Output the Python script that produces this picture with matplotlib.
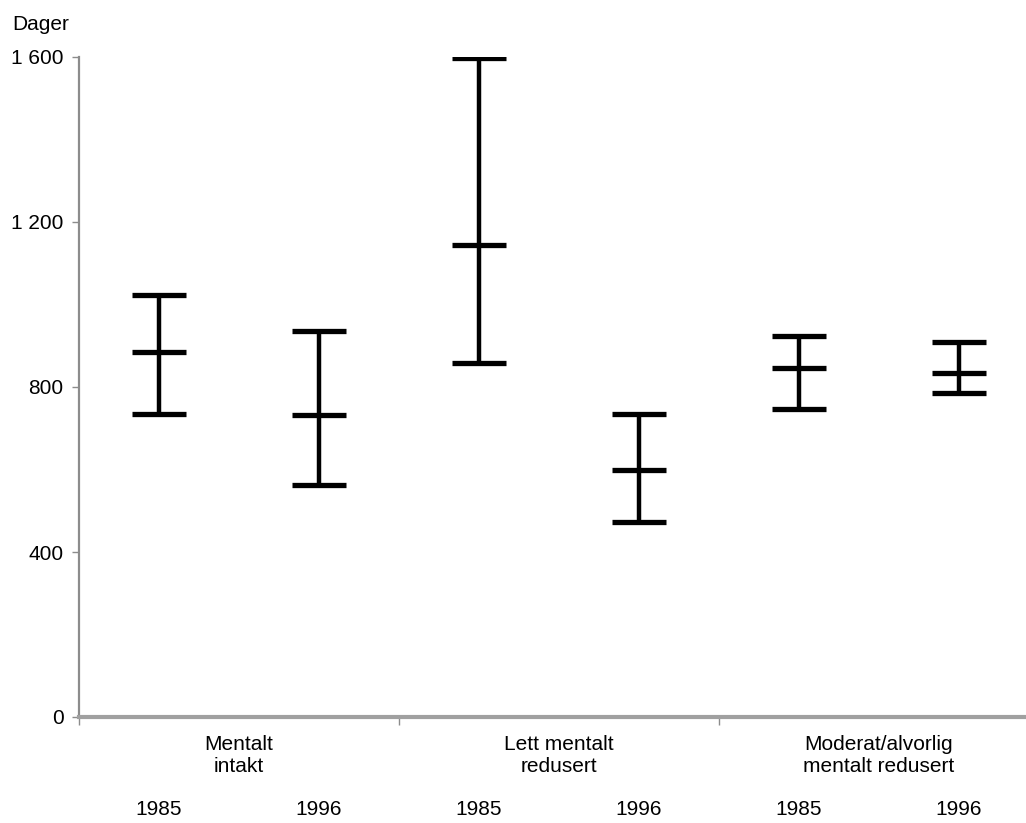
import matplotlib
matplotlib.use("Agg")
import matplotlib.pyplot as plt
import matplotlib.transforms as mtransforms

plt.rcParams["font.family"] = ["Liberation Sans Narrow", "Liberation Sans", "DejaVu Sans"]

# Data (days)
groups = ["Mentalt\nintakt", "Lett mentalt\nredusert", "Moderat/alvorlig\nmentalt redusert"]
years = ["1985", "1996", "1985", "1996", "1985", "1996"]
means = [885, 732, 1144, 599, 846, 834]
lower = [735, 562, 858, 473, 747, 785]
upper = [1023, 936, 1597, 735, 924, 909]
yticks = [0, 400, 800, 1200, 1600]
ytick_labels = ["0", "400", "800", "1 200", "1 600"]

fs = 15

fig = plt.figure(figsize=(10.26, 8.23), dpi=100)
# axes runs slightly past the right edge, as in the cropped original
ax = fig.add_axes([79 / 1026, 1 - 717 / 823, 960 / 1026, 660 / 823])

xs = list(range(len(means)))
yerr = [[m - lo for m, lo in zip(means, lower)], [hi - m for m, hi in zip(means, upper)]]
ax.errorbar(xs, means, yerr=yerr, fmt="_", color="black", ecolor="black",
            elinewidth=3.2, capsize=19.5, capthick=3.6,
            markersize=39, markeredgewidth=3.8)

ax.set_xlim(-0.5, 5.5)
ax.set_ylim(0, 1600)

for s in ["top", "right"]:
    ax.spines[s].set_visible(False)
ax.spines["left"].set_color("#8c8c8c")
ax.spines["left"].set_linewidth(1.6)
ax.spines["bottom"].set_color("#a0a0a0")
ax.spines["bottom"].set_linewidth(3.0)

ax.set_yticks(yticks)
ax.set_yticklabels(ytick_labels)
ax.tick_params(axis="y", length=5, width=1, color="#8c8c8c", labelsize=fs, pad=6)

# years as major tick labels, group separators as minor ticks
ax.set_xticks(xs)
ax.set_xticklabels(years)
ax.tick_params(axis="x", which="major", length=0, labelsize=fs, pad=60)
ax.set_xticks([-0.5, 1.5, 3.5], minor=True)
ax.tick_params(axis="x", which="minor", length=6, width=1, color="#8c8c8c")

trans = mtransforms.blended_transform_factory(ax.transData, ax.transAxes)
for i, g in enumerate(groups):
    ax.text(2 * i + 0.5, -0.028, g, transform=trans, ha="center", va="top",
            fontsize=fs)

fig.text(12 / 1026, 1 - 25 / 823, "Dager", ha="left", va="center", fontsize=fs)

fig.savefig("out.png", dpi=100)
